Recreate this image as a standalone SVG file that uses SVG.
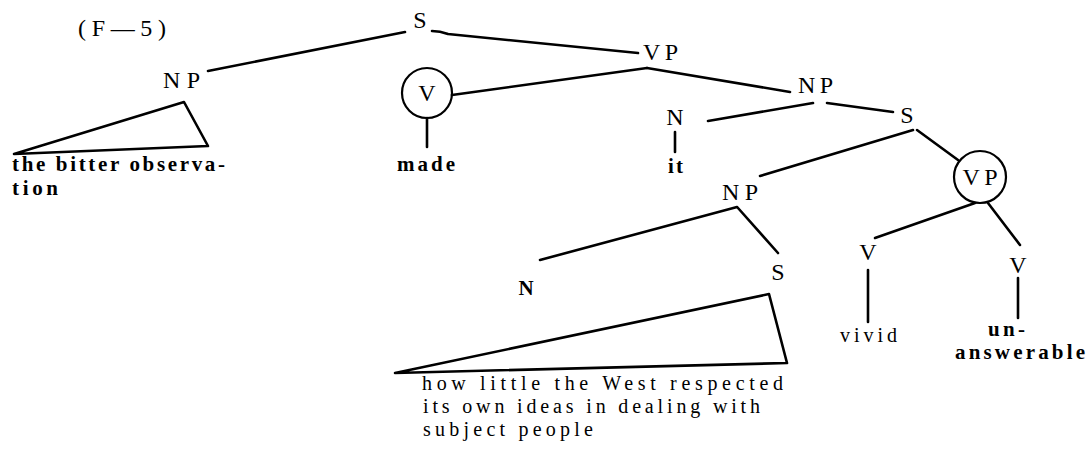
<svg xmlns="http://www.w3.org/2000/svg" width="1088" height="450" viewBox="0 0 1088 450">
<style>
.e{stroke:#000;stroke-width:2.6;fill:none;stroke-linecap:round;stroke-linejoin:round}
.l{font-family:"Liberation Serif","Times New Roman",serif;font-size:24px;fill:#000}
.b{font-family:"Liberation Serif","Times New Roman",serif;font-size:21px;font-weight:bold;fill:#000}
.t{font-family:"Liberation Serif","Times New Roman",serif;font-size:20px;fill:#000}
.c{stroke:#000;stroke-width:2.2;fill:none}
</style>
<rect width="1088" height="450" fill="#fff"/>
<text class="l" x="78" y="36" font-size="22" textLength="88" lengthAdjust="spacing">(F—5)</text>
<g id="connectors">
<line class="e" x1="405" y1="32" x2="208" y2="71"/>
<path class="e" d="M432 31 Q440 31 448 34 L638 53"/>
<line class="e" x1="452" y1="95" x2="647" y2="68"/>
<line class="e" x1="647" y1="68" x2="790" y2="92"/>
<line class="e" x1="427" y1="118" x2="427" y2="147"/>
<line class="e" x1="813" y1="103" x2="708" y2="121"/>
<line class="e" x1="675" y1="132" x2="675" y2="152"/>
<line class="e" x1="827" y1="103" x2="893" y2="112"/>
<line class="e" x1="913" y1="130" x2="760" y2="176"/>
<line class="e" x1="917" y1="130" x2="958" y2="160"/>
<line class="e" x1="737" y1="207" x2="540" y2="260"/>
<line class="e" x1="738" y1="208" x2="778" y2="253"/>
<line class="e" x1="975" y1="203" x2="875" y2="238"/>
<line class="e" x1="988" y1="203" x2="1020" y2="245"/>
<line class="e" x1="868" y1="270" x2="868" y2="322"/>
<line class="e" x1="1018" y1="278" x2="1018" y2="318"/>
</g>
<g id="S-root"><text class="l" x="420" y="28" text-anchor="middle">S</text></g>
<g id="NP-subj">
<text class="l" x="163" y="88" textLength="37" lengthAdjust="spacing">NP</text>
<polygon class="e" points="14,154 184,102 208,146"/>
<text class="b" x="12" y="171" textLength="213" lengthAdjust="spacing">the bitter observa-</text>
<text class="b" x="12" y="195" textLength="46" lengthAdjust="spacing">tion</text>
</g>
<g id="VP-top"><text class="l" x="643" y="60" textLength="35" lengthAdjust="spacing">VP</text></g>
<g id="V-made">
<circle class="c" cx="427" cy="93" r="25"/>
<text class="l" x="427" y="101" text-anchor="middle">V</text>
<text class="b" x="397" y="171" textLength="58" lengthAdjust="spacing">made</text>
</g>
<g id="NP-obj"><text class="l" x="798" y="93" textLength="35" lengthAdjust="spacing">NP</text></g>
<g id="N-it">
<text class="l" x="675" y="125" text-anchor="middle">N</text>
<text class="b" x="668" y="173" textLength="15" lengthAdjust="spacing">it</text>
</g>
<g id="S-comp"><text class="l" x="907" y="123" text-anchor="middle">S</text></g>
<g id="NP-low"><text class="l" x="722" y="200" textLength="36" lengthAdjust="spacing">NP</text></g>
<g id="N-low"><text class="b" x="526" y="295" text-anchor="middle" font-size="23">N</text></g>
<g id="S-low">
<text class="l" x="778" y="280" text-anchor="middle">S</text>
<polygon class="e" points="395,373 769,294 787,363"/>
<text class="t" x="422" y="390" textLength="361" lengthAdjust="spacing">how little the West respected</text>
<text class="t" x="423" y="413" textLength="337" lengthAdjust="spacing">its own ideas in dealing with</text>
<text class="t" x="423" y="436" textLength="170" lengthAdjust="spacing">subject people</text>
</g>
<g id="VP-circle">
<circle class="c" cx="980" cy="177" r="26"/>
<text class="l" x="980" y="185" text-anchor="middle" textLength="35" lengthAdjust="spacing">VP</text>
</g>
<g id="V-vivid">
<text class="l" x="868" y="260" text-anchor="middle">V</text>
<text class="t" x="840" y="342" textLength="57" lengthAdjust="spacing">vivid</text>
</g>
<g id="V-unanswerable">
<text class="l" x="1018" y="273" text-anchor="middle">V</text>
<text class="b" x="988" y="336" textLength="37" lengthAdjust="spacing">un-</text>
<text class="b" x="955" y="359" textLength="130" lengthAdjust="spacing">answerable</text>
</g>
</svg>
